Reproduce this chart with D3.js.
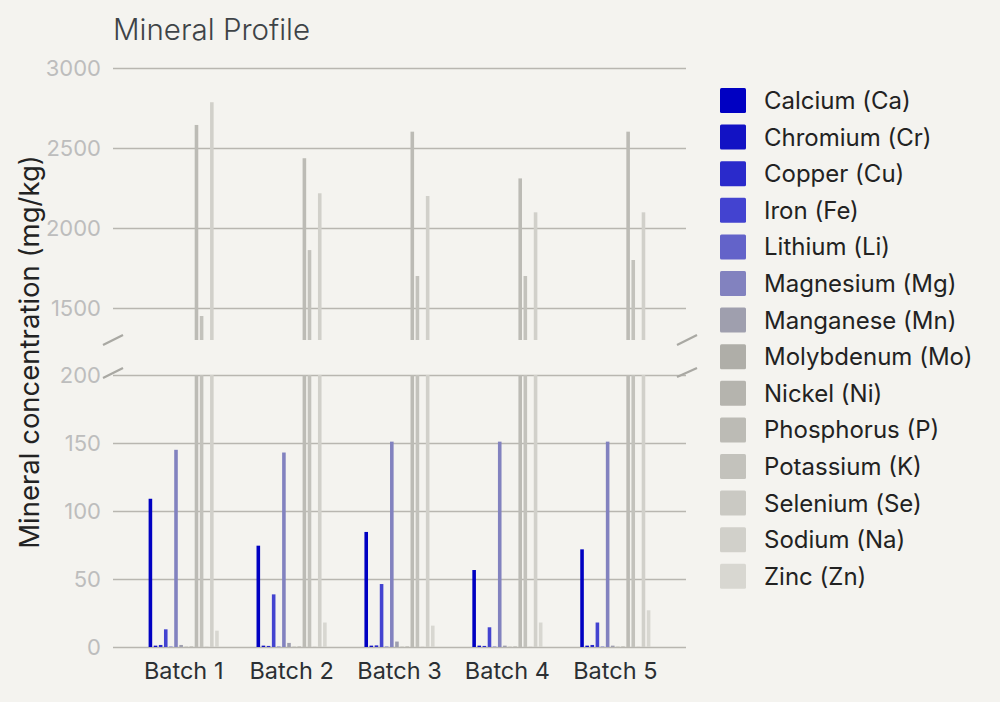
<!DOCTYPE html>
<html>
<head>
<meta charset="utf-8">
<script src="https://cdn.jsdelivr.net/npm/d3@7"></script>
<style>
  html, body { margin: 0; padding: 0; background: #f4f3ef; }
  svg { display: block; font-family: Inter, "Noto Sans", sans-serif; }
</style>
</head>
<body>
<div id="chart"></div>
<script>
// Chart data
const batches = ['Batch 1', 'Batch 2', 'Batch 3', 'Batch 4', 'Batch 5'];

const minerals = [
    'Calcium (Ca)', 'Chromium (Cr)', 'Copper (Cu)', 'Iron (Fe)', 'Lithium (Li)',
    'Magnesium (Mg)', 'Manganese (Mn)', 'Molybdenum (Mo)', 'Nickel (Ni)',
    'Phosphorus (P)', 'Potassium (K)', 'Selenium (Se)', 'Sodium (Na)', 'Zinc (Zn)'
];

// values per mineral, one per batch (mg/kg)
const calcium    = [109, 74.5, 84.6, 56.6, 71.8];
const chromium   = [1.0, 1.0, 1.0, 1.0, 1.0];
const copper     = [1.5, 0.8, 1.2, 0.8, 1.5];
const iron       = [13, 38.7, 46.3, 14.5, 18];
const lithium    = [0.3, 0.3, 0.3, 0.3, 0.3];
const magnesium  = [145, 143, 151, 151, 151];
const manganese  = [1.5, 3, 4, 1, 1];
const molybdenum = [0.2, 0.2, 0.2, 0.2, 0.2];
const nickel     = [0.4, 0.4, 0.4, 0.4, 0.4];
const phosphorus = [2644, 2436, 2602, 2310, 2602];
const potassium  = [1450, 1862, 1700, 1700, 1800];
const selenium   = [0.2, 0.2, 0.2, 0.2, 0.2];
const sodium     = [2786, 2217, 2200, 2098, 2098];
const zinc       = [12, 18, 15.7, 18, 27];

const seriesValues = [calcium, chromium, copper, iron, lithium, magnesium, manganese,
    molybdenum, nickel, phosphorus, potassium, selenium, sodium, zinc];

const colors = ['#0000c2', '#1212c4', '#2a2acb', '#4343d0', '#6363c9', '#8282bf',
    '#9f9fae', '#afaea8', '#b5b4ae', '#bcbbb5', '#c3c2bc', '#cac9c3', '#d1d0ca', '#d8d7d1'];

const lowTicks = [0, 50, 100, 150, 200];
const highTicks = [1500, 2000, 2500, 3000];

const width = 1000, height = 702;
const left = 113, right = 686;

const svg = d3.select('#chart')
    .append('svg')
    .attr('width', width)
    .attr('height', height);

// Scales
const x0 = d3.scaleBand()
    .domain(batches)
    .range([left, right])
    .paddingInner(0.35)
    .paddingOuter(0.33);

const x1 = d3.scaleBand()
    .domain(minerals)
    .range([0, x0.bandwidth()])
    .paddingInner(0.3);

const yLow = d3.scaleLinear().domain([0, 200]).range([647, 375]).clamp(true);
const yHigh = d3.scaleLinear().domain([1300, 3000]).range([340, 68]).clamp(true);

const color = d3.scaleOrdinal().domain(minerals).range(colors);

// Gridlines + tick labels
function drawAxis(scale, ticks) {
    const g = svg.append('g')
        .attr('transform', `translate(${left},0)`)
        .call(d3.axisLeft(scale)
            .tickValues(ticks)
            .tickFormat(d3.format('d'))
            .tickSize(-(right - left))
            .tickPadding(12));
    g.select('.domain').remove();
    g.selectAll('.tick line')
        .style('stroke', '#b8b6b0')
        .style('stroke-width', '1.7px');
    g.selectAll('text')
        .style('fill', '#bdbdbd')
        .style('font-size', '22px')
        .style('font-family', 'Inter, sans-serif');
}
drawAxis(yLow, lowTicks);
drawAxis(yHigh, highTicks);

// Flatten data
const bars = [];
batches.forEach((b, bi) => {
    minerals.forEach((m, mi) => {
        bars.push({ batch: b, mineral: m, value: seriesValues[mi][bi] });
    });
});

// Bottom panel bars
svg.append('g').selectAll('rect')
    .data(bars)
    .enter().append('rect')
    .attr('x', d => x0(d.batch) + x1(d.mineral))
    .attr('width', x1.bandwidth())
    .attr('y', d => yLow(d.value))
    .attr('height', d => yLow(0) - yLow(d.value))
    .attr('fill', d => color(d.mineral));

// Top panel bars
svg.append('g').selectAll('rect')
    .data(bars.filter(d => d.value > 1300))
    .enter().append('rect')
    .attr('x', d => x0(d.batch) + x1(d.mineral))
    .attr('width', x1.bandwidth())
    .attr('y', d => yHigh(d.value))
    .attr('height', d => yHigh(1300) - yHigh(d.value))
    .attr('fill', d => color(d.mineral));

// Break marks
const breaks = [[103, 345, 123, 335], [103, 378, 123, 368], [677, 345, 697, 335], [677, 377, 697, 368]];
svg.append('g').selectAll('line')
    .data(breaks)
    .enter().append('line')
    .attr('x1', d => d[0]).attr('y1', d => d[1])
    .attr('x2', d => d[2]).attr('y2', d => d[3])
    .style('stroke', '#a9a8a3')
    .style('stroke-width', '2.2px');

// X axis labels
const xg = svg.append('g')
    .attr('transform', `translate(0,${yLow(0)})`)
    .call(d3.axisBottom(x0).tickSize(0).tickPadding(15));
xg.select('.domain').remove();
xg.selectAll('text')
    .style('fill', '#2b2f33')
    .style('font-size', '23.5px')
    .style('font-family', 'Inter, sans-serif');

// Title
svg.append('text')
    .attr('x', 113)
    .attr('y', 40)
    .style('fill', '#3e4347')
    .style('font-size', '29.5px')
    .style('font-weight', 300)
    .text('Mineral Profile');

// Y axis label
svg.append('text')
    .attr('transform', 'translate(39, 352) rotate(-90)')
    .style('text-anchor', 'middle')
    .style('fill', '#222')
    .style('font-size', '27.5px')
    .text('Mineral concentration (mg/kg)');

// Legend
const legend = svg.append('g')
    .attr('transform', 'translate(720, 88)');
const item = legend.selectAll('g')
    .data(minerals)
    .enter().append('g')
    .attr('transform', (d, i) => `translate(0, ${i * 36.6})`);
item.append('rect')
    .attr('width', 26)
    .attr('height', 25)
    .attr('rx', 1.5)
    .attr('fill', d => color(d));
item.append('text')
    .attr('x', 44)
    .attr('y', 12.5)
    .attr('dy', '0.35em')
    .style('fill', '#222')
    .style('font-size', '24px')
    .text(d => d);
</script>
</body>
</html>
